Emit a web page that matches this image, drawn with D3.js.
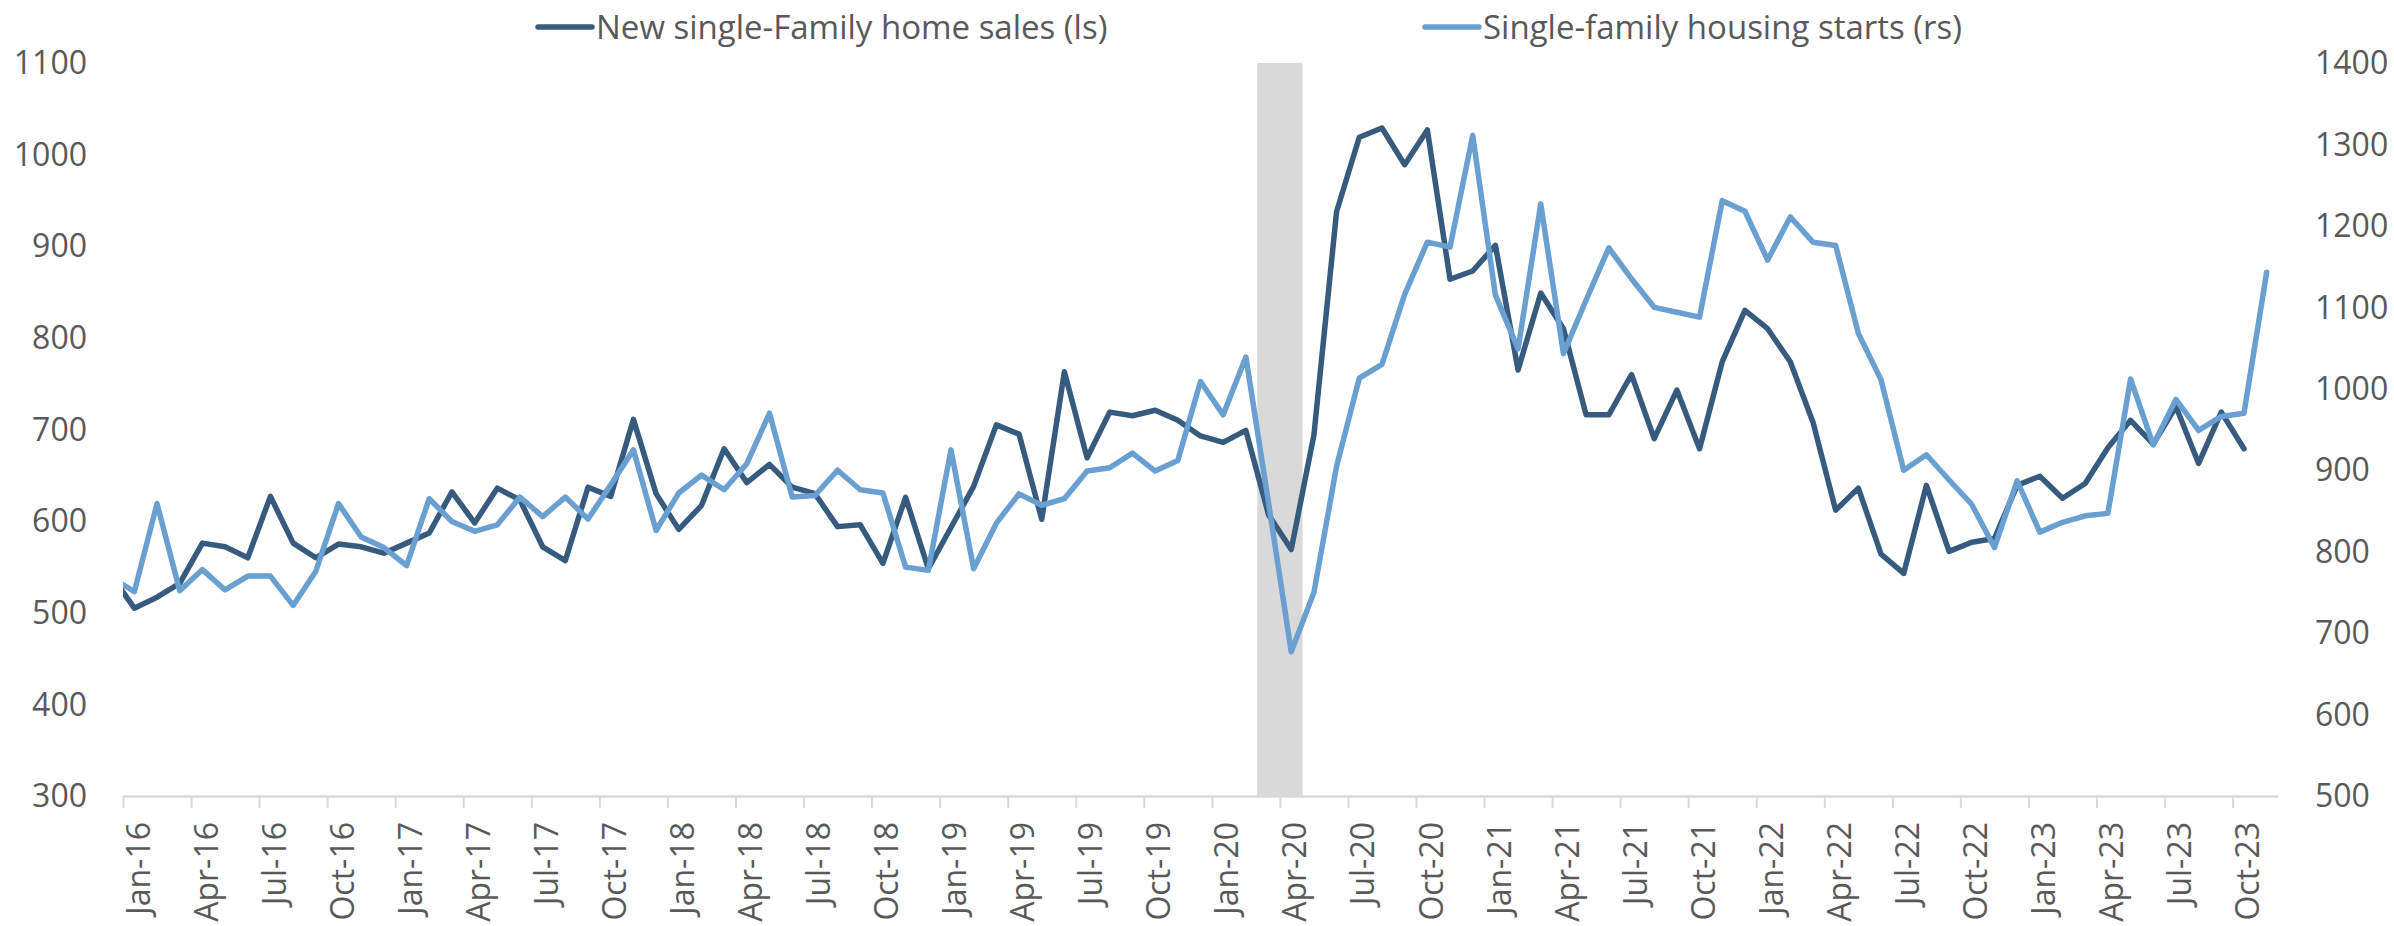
<!DOCTYPE html>
<html>
<head>
<meta charset="utf-8">
<script src="https://cdn.jsdelivr.net/npm/d3@7"></script>
<style>
  body { margin: 0; background: #ffffff; }
  text { font-family: "Open Sans", "Noto Sans", sans-serif; fill: #595959; }
</style>
</head>
<body>
<div id="chart"></div>
<script>
// Monthly data, both series start in Dec-15 (clipped at the left edge of the plot)
const firstMonth = "Dec-15";

// New single-family home sales, thousands (left scale), Dec-15 .. Oct-23
const salesValues = [
    540,
    505, 517, 532, 576, 572, 560, 627, 576, 560, 575, 572, 565,
    576, 587, 632, 598, 636, 623, 572, 557, 637, 627, 711, 630,
    591, 617, 679, 642, 662, 637, 630, 594, 596, 554, 626, 548,
    593, 638, 705, 695, 602, 763, 669, 719, 715, 721, 710, 693,
    686, 699, 607, 569, 694, 938, 1019, 1029, 989, 1027, 864, 873,
    901, 765, 849, 810, 716, 716, 760, 690, 743, 679, 774, 830,
    810, 774, 708, 612, 636, 564, 543, 639, 567, 577, 581, 639,
    649, 625, 641, 680, 710, 684, 725, 663, 719, 679
];

// Single-family housing starts, thousands (right scale), Dec-15 .. Nov-23
const startsValues = [
    768,
    751, 859, 752, 778, 753, 770, 770, 734, 776, 859, 818, 805,
    783, 865, 837, 825, 833, 867, 843, 867, 840, 882, 925, 826,
    872, 894, 876, 908, 970, 867, 869, 900, 876, 872, 781, 777,
    925, 779, 835, 871, 857, 865, 899, 903, 921, 899, 912, 1009,
    968, 1039, 860, 677, 750, 905, 1013, 1030, 1116, 1180, 1174, 1311,
    1115, 1049, 1227, 1043, 1109, 1173, 1135, 1100, 1094, 1088, 1231, 1218,
    1158, 1211, 1180, 1176, 1068, 1011, 900, 919, 888, 858, 805, 887,
    824, 836, 844, 847, 1012, 931, 987, 949, 966, 970, 1143
];

const tickLabels = [
    "Jan-16", "Apr-16", "Jul-16", "Oct-16", "Jan-17", "Apr-17", "Jul-17", "Oct-17",
    "Jan-18", "Apr-18", "Jul-18", "Oct-18", "Jan-19", "Apr-19", "Jul-19", "Oct-19",
    "Jan-20", "Apr-20", "Jul-20", "Oct-20", "Jan-21", "Apr-21", "Jul-21", "Oct-21",
    "Jan-22", "Apr-22", "Jul-22", "Oct-22", "Jan-23", "Apr-23", "Jul-23", "Oct-23"
];
const axisStart = "Jan-16", axisEnd = "Dec-23";

const leftTicks = [300, 400, 500, 600, 700, 800, 900, 1000, 1100];
const rightTicks = [500, 600, 700, 800, 900, 1000, 1100, 1200, 1300, 1400];

// recession months shaded grey
const recessionMonths = ["Mar-20", "Apr-20"];

const seriesNames = ["New single-Family home sales (ls)", "Single-family housing starts (rs)"];
const seriesColors = ["#375b7e", "#6a9fd1"];

// Dimensions
const width = 2394, height = 926;
const margin = {top: 63, bottom: 130, left: 123, right: 116};

const parseMonth = d3.timeParse("%b-%y");
const origin = parseMonth(axisStart);
const monthIndex = label => d3.timeMonth.count(origin, parseMonth(label));
const startIdx = monthIndex(firstMonth);

const svg = d3.select("#chart")
    .append("svg")
    .attr("width", width)
    .attr("height", height);

// month index scale: ticks sit on month starts, points at mid-month
const xScale = d3.scaleLinear()
    .domain([0, monthIndex(axisEnd)])
    .range([margin.left, width - margin.right]);

const yLeft = d3.scaleLinear()
    .domain([300, 1100])
    .range([height - margin.bottom, margin.top]);

const yRight = d3.scaleLinear()
    .domain([500, 1400])
    .range([height - margin.bottom, margin.top]);

svg.append("clipPath")
    .attr("id", "plotClip")
    .append("rect")
    .attr("x", xScale(0))
    .attr("y", 0)
    .attr("width", xScale.range()[1] - xScale(0))
    .attr("height", height - margin.bottom);

// Recession band
const recStart = monthIndex(recessionMonths[0]);
const recEnd = monthIndex(recessionMonths[recessionMonths.length - 1]) + 1;
svg.append("rect")
    .attr("x", xScale(recStart))
    .attr("y", margin.top)
    .attr("width", xScale(recEnd) - xScale(recStart))
    .attr("height", height - margin.bottom - margin.top)
    .attr("fill", "#d9d9d9");

// X axis
const xAxis = svg.append("g")
    .attr("transform", `translate(0,${height - margin.bottom})`)
    .call(d3.axisBottom(xScale)
        .tickValues(tickLabels.map(monthIndex))
        .tickFormat((d, i) => tickLabels[i])
        .tickSize(12)
        .tickSizeOuter(0));

xAxis.select(".domain")
    .attr("stroke", "#d9d9d9")
    .attr("stroke-width", 2.5);
xAxis.selectAll(".tick line")
    .attr("stroke", "#d9d9d9")
    .attr("stroke-width", 2);
xAxis.selectAll(".tick text")
    .attr("transform", "rotate(-90)")
    .attr("x", -26)
    .attr("y", 26)
    .attr("dy", 0)
    .style("text-anchor", "end")
    .style("font-size", "32px")
    .attr("fill", "#595959");

// Left axis labels
svg.append("g")
    .selectAll("text")
    .data(leftTicks)
    .enter().append("text")
    .attr("x", 87)
    .attr("y", d => yLeft(d))
    .attr("dy", "0.35em")
    .style("text-anchor", "end")
    .style("font-size", "32px")
    .text(d => d);

// Right axis labels
svg.append("g")
    .selectAll("text")
    .data(rightTicks)
    .enter().append("text")
    .attr("x", 2315)
    .attr("y", d => yRight(d))
    .attr("dy", "0.35em")
    .style("text-anchor", "start")
    .style("font-size", "32px")
    .text(d => d);

// Lines
const plot = svg.append("g").attr("clip-path", "url(#plotClip)");

const salesLine = d3.line()
    .x((d, i) => xScale(startIdx + i + 0.5))
    .y(d => yLeft(d));

const startsLine = d3.line()
    .x((d, i) => xScale(startIdx + i + 0.5))
    .y(d => yRight(d));

plot.append("path")
    .datum(salesValues)
    .attr("d", salesLine)
    .attr("fill", "none")
    .attr("stroke", seriesColors[0])
    .attr("stroke-width", 5.5)
    .attr("stroke-linejoin", "round")
    .attr("stroke-linecap", "round");

plot.append("path")
    .datum(startsValues)
    .attr("d", startsLine)
    .attr("fill", "none")
    .attr("stroke", seriesColors[1])
    .attr("stroke-width", 5.5)
    .attr("stroke-linejoin", "round")
    .attr("stroke-linecap", "round");

// Legend
const legendX = [538, 1425];
const legend = svg.selectAll(".legend")
    .data(seriesNames)
    .enter().append("g")
    .attr("class", "legend")
    .attr("transform", (d, i) => `translate(${legendX[i]},27)`);

legend.append("line")
    .attr("x1", 0)
    .attr("x2", 54)
    .attr("y1", 0)
    .attr("y2", 0)
    .attr("stroke", (d, i) => seriesColors[i])
    .attr("stroke-width", 5.5)
    .attr("stroke-linecap", "round");

legend.append("text")
    .attr("x", 58)
    .attr("y", 12)
    .style("font-size", "33px")
    .text(d => d);
</script>
</body>
</html>
